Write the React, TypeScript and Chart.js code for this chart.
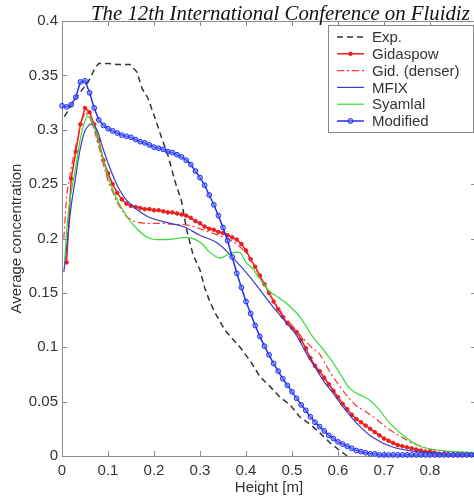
import React, { useEffect, useRef } from 'react';
import { Chart, registerables } from 'chart.js';
Chart.register(...registerables);

// Sample heights (m) shared by the dense marker series
const gridX = [
  0.0, 0.01, 0.02, 0.03, 0.04, 0.05, 0.06, 0.07, 0.08, 0.09,
  0.1, 0.11, 0.12, 0.13, 0.14, 0.15, 0.16, 0.17, 0.18, 0.19,
  0.2, 0.21, 0.22, 0.23, 0.24, 0.25, 0.26, 0.27, 0.28, 0.29,
  0.3, 0.31, 0.32, 0.33, 0.34, 0.35, 0.36, 0.37, 0.38, 0.39,
  0.4, 0.41, 0.42, 0.43, 0.44, 0.45, 0.46, 0.47, 0.48, 0.49,
  0.5, 0.51, 0.52, 0.53, 0.54, 0.55, 0.56, 0.57, 0.58, 0.59,
  0.6, 0.61, 0.62, 0.63, 0.64, 0.65, 0.66, 0.67, 0.68, 0.69,
  0.7, 0.71, 0.72, 0.73, 0.74, 0.75, 0.76, 0.77, 0.78, 0.79,
  0.8, 0.81, 0.82, 0.83, 0.84, 0.85, 0.86, 0.87, 0.88, 0.89, 0.9,
];

const modifiedY = [
  0.322, 0.321, 0.323, 0.33, 0.344, 0.345, 0.334, 0.32, 0.309, 0.304,
  0.301, 0.299, 0.297, 0.295, 0.294, 0.293, 0.291, 0.289, 0.288, 0.286,
  0.284, 0.283, 0.282, 0.28, 0.279, 0.277, 0.275, 0.272, 0.268, 0.262,
  0.256, 0.249, 0.24, 0.231, 0.221, 0.21, 0.198, 0.183, 0.168, 0.155,
  0.142, 0.131, 0.12, 0.11, 0.101, 0.093, 0.085, 0.078, 0.071, 0.065,
  0.059, 0.053, 0.047, 0.042, 0.036, 0.031, 0.027, 0.023, 0.019, 0.016,
  0.013, 0.011, 0.009, 0.007, 0.005, 0.004, 0.003, 0.002, 0.002, 0.001,
  0.001, 0.001, 0.001, 0.001, 0.001, 0.001, 0.001, 0.001, 0.001, 0.001,
  0.001, 0.001, 0.001, 0.001, 0.001, 0.001, 0.001, 0.001, 0.001, 0.001, 0.001,
];

const gidaspowY = [
  null, 0.178, 0.255, 0.28, 0.305, 0.32, 0.316, 0.305, 0.29, 0.272,
  0.26, 0.25, 0.242, 0.236, 0.232, 0.23, 0.229, 0.228, 0.227, 0.227,
  0.226, 0.226, 0.225, 0.224, 0.224, 0.223, 0.222, 0.221, 0.219, 0.216,
  0.214, 0.211, 0.209, 0.208, 0.206, 0.205, 0.203, 0.201, 0.199, 0.195,
  0.189, 0.181, 0.174, 0.166, 0.158, 0.15, 0.142, 0.135, 0.128, 0.122,
  0.118, 0.114, 0.107, 0.099, 0.09, 0.083, 0.078, 0.072, 0.066, 0.06,
  0.054, 0.048, 0.043, 0.038, 0.034, 0.031, 0.028, 0.025, 0.022, 0.019,
  0.016, 0.014, 0.012, 0.01, 0.009, 0.008, 0.007, 0.006, 0.005, 0.004,
  0.004, 0.003, 0.002, 0.002, 0.001, 0.001, 0.001, 0.001, 0.001, 0.001, 0.001,
];

const expX = [0.005, 0.03, 0.057, 0.072, 0.08, 0.1, 0.12, 0.148, 0.163, 0.174, 0.187, 0.202, 0.217, 0.23, 0.246, 0.26, 0.271, 0.285, 0.3, 0.31, 0.322, 0.335, 0.354, 0.37, 0.387, 0.41, 0.43, 0.452, 0.474, 0.496, 0.517, 0.54, 0.561, 0.583, 0.604, 0.62];
const expY = [0.312, 0.329, 0.344, 0.357, 0.361, 0.361, 0.36, 0.36, 0.353, 0.338, 0.329, 0.311, 0.292, 0.277, 0.252, 0.234, 0.208, 0.185, 0.171, 0.155, 0.141, 0.13, 0.116, 0.108, 0.1, 0.087, 0.073, 0.064, 0.054, 0.047, 0.036, 0.029, 0.021, 0.012, 0.005, 0.0];

const denserX = [0.004, 0.01, 0.02, 0.03, 0.04, 0.05, 0.06, 0.07, 0.08, 0.09, 0.1, 0.12, 0.14, 0.16, 0.18, 0.2, 0.22, 0.24, 0.26, 0.28, 0.3, 0.32, 0.34, 0.36, 0.38, 0.4, 0.42, 0.44, 0.46, 0.48, 0.5, 0.52, 0.54, 0.56, 0.58, 0.6, 0.62, 0.64, 0.66, 0.68, 0.7, 0.72, 0.74, 0.76, 0.78, 0.8, 0.82, 0.85, 0.9];
const denserY = [0.2, 0.24, 0.265, 0.285, 0.305, 0.316, 0.312, 0.3, 0.285, 0.268, 0.253, 0.233, 0.22, 0.215, 0.214, 0.214, 0.214, 0.213, 0.213, 0.212, 0.209, 0.206, 0.203, 0.2, 0.195, 0.187, 0.173, 0.158, 0.143, 0.13, 0.12, 0.11, 0.101, 0.094, 0.079, 0.066, 0.055, 0.046, 0.041, 0.035, 0.028, 0.022, 0.017, 0.012, 0.009, 0.006, 0.005, 0.003, 0.002];

const mfixX = [0.004, 0.013, 0.02, 0.028, 0.036, 0.043, 0.05, 0.058, 0.066, 0.076, 0.089, 0.104, 0.12, 0.137, 0.159, 0.187, 0.224, 0.263, 0.3, 0.337, 0.372, 0.402, 0.43, 0.459, 0.489, 0.511, 0.533, 0.554, 0.572, 0.589, 0.611, 0.641, 0.676, 0.72, 0.772, 0.84, 0.9];
const mfixY = [0.169, 0.203, 0.23, 0.252, 0.274, 0.289, 0.299, 0.304, 0.305, 0.3, 0.283, 0.265, 0.249, 0.237, 0.228, 0.22, 0.215, 0.211, 0.203, 0.196, 0.182, 0.168, 0.153, 0.137, 0.122, 0.11, 0.093, 0.079, 0.067, 0.058, 0.045, 0.03, 0.017, 0.008, 0.004, 0.001, 0.0];

const syamlalX = [0.006, 0.01, 0.017, 0.028, 0.036, 0.043, 0.054, 0.061, 0.068, 0.076, 0.089, 0.104, 0.122, 0.143, 0.165, 0.191, 0.228, 0.25, 0.271, 0.29, 0.305, 0.322, 0.343, 0.36, 0.372, 0.387, 0.4, 0.415, 0.43, 0.452, 0.47, 0.489, 0.517, 0.546, 0.566, 0.589, 0.607, 0.626, 0.648, 0.663, 0.685, 0.713, 0.75, 0.778, 0.807, 0.857, 0.9];
const syamlalY = [0.18, 0.206, 0.235, 0.261, 0.282, 0.298, 0.312, 0.311, 0.305, 0.295, 0.274, 0.252, 0.234, 0.219, 0.208, 0.2, 0.199, 0.2, 0.201, 0.199, 0.195, 0.187, 0.182, 0.185, 0.187, 0.187, 0.178, 0.172, 0.163, 0.151, 0.146, 0.14, 0.128, 0.109, 0.099, 0.086, 0.074, 0.062, 0.056, 0.053, 0.045, 0.03, 0.016, 0.009, 0.006, 0.004, 0.003];

const seriesNames = ['Exp.', 'Gidaspow', 'Gid. (denser)', 'MFIX', 'Syamlal', 'Modified'];
const xTickMax = 0.9;
const yTickMax = 0.4;

const FONT = '"Liberation Sans", Arial, sans-serif';
const TEXT = '#333333';
const AXIS = '#8c8c8c';

const pts = (xs: number[], ys: (number | null)[]) => xs.map((x, i) => ({ x, y: ys[i] }));
const fmt = (v: number) => String(Math.round(v * 100) / 100);

const framePlugin = {
  id: 'frame',
  beforeDatasetsDraw(chart: any) {
    const { ctx, chartArea, scales } = chart;
    const { left, right, top, bottom } = chartArea;
    ctx.save();
    ctx.strokeStyle = AXIS;
    ctx.lineWidth = 1;
    ctx.setLineDash([]);
    ctx.strokeRect(Math.round(left) + 0.5, Math.round(top) + 0.5, Math.round(right - left), Math.round(bottom - top));
    ctx.beginPath();
    scales.x.ticks.forEach((t: any) => {
      const px = Math.round(scales.x.getPixelForValue(t.value)) + 0.5;
      ctx.moveTo(px, bottom); ctx.lineTo(px, bottom - 5);
      ctx.moveTo(px, top); ctx.lineTo(px, top + 5);
    });
    scales.y.ticks.forEach((t: any) => {
      const py = Math.round(scales.y.getPixelForValue(t.value)) + 0.5;
      ctx.moveTo(left, py); ctx.lineTo(left + 5, py);
      ctx.moveTo(right, py); ctx.lineTo(right - 5, py);
    });
    ctx.stroke();
    ctx.restore();
  },
};

const legendPlugin = {
  id: 'boxLegend',
  afterDraw(chart: any) {
    const { ctx } = chart;
    const bx = 328, by = 25, bw = 145, bh = 107;
    ctx.save();
    ctx.fillStyle = '#ffffff';
    ctx.fillRect(bx, by, bw, bh);
    ctx.strokeStyle = '#888888';
    ctx.lineWidth = 1;
    ctx.strokeRect(bx + 0.5, by + 0.5, bw, bh);
    chart.data.datasets.forEach((ds: any, i: number) => {
      const y = by + 12 + i * 16.8;
      ctx.strokeStyle = ds.borderColor;
      ctx.lineWidth = ds.borderWidth;
      ctx.setLineDash(ds.borderDash || []);
      ctx.beginPath();
      ctx.moveTo(337, y);
      ctx.lineTo(364, y);
      ctx.stroke();
      ctx.setLineDash([]);
      if (ds.pointRadius > 0) {
        ctx.beginPath();
        ctx.arc(350.5, y, ds.pointRadius, 0, Math.PI * 2);
        ctx.fillStyle = ds.pointBackgroundColor;
        ctx.fill();
        ctx.strokeStyle = ds.pointBorderColor;
        ctx.lineWidth = 1;
        ctx.stroke();
      }
      ctx.fillStyle = TEXT;
      ctx.font = `15px ${FONT}`;
      ctx.textBaseline = 'middle';
      ctx.textAlign = 'left';
      ctx.fillText(ds.label, 372, y + 1);
    });
    ctx.restore();
  },
};

export default function App() {
  const ref = useRef<HTMLCanvasElement>(null);
  useEffect(() => {
    if (!ref.current) return;
    const chart = new Chart(ref.current, {
      type: 'line',
      data: {
        datasets: [
          {
            label: seriesNames[0], data: pts(expX, expY), borderColor: '#333333', borderWidth: 1.5,
            borderDash: [6, 4], pointRadius: 0, order: 5, clip: false,
          },
          {
            label: seriesNames[1], data: pts(gridX, gidaspowY), borderColor: '#ee1c1c', borderWidth: 1.5,
            pointRadius: 1.8, pointBackgroundColor: '#ee1c1c', pointBorderColor: '#ee1c1c', pointBorderWidth: 1,
            order: 4, clip: false, spanGaps: true,
          },
          {
            label: seriesNames[2], data: pts(denserX, denserY), borderColor: '#ff3030', borderWidth: 1.2,
            borderDash: [7, 3, 2, 3], pointRadius: 0, order: 3, clip: false,
          },
          {
            label: seriesNames[3], data: pts(mfixX, mfixY), borderColor: '#3b3bd0', borderWidth: 1.2,
            pointRadius: 0, order: 2, clip: false, tension: 0.35,
          },
          {
            label: seriesNames[4], data: pts(syamlalX, syamlalY), borderColor: '#33dd33', borderWidth: 1.2,
            pointRadius: 0, order: 1, clip: false, tension: 0.35,
          },
          {
            label: seriesNames[5], data: pts(gridX, modifiedY), borderColor: '#1f2ff0', borderWidth: 1.5,
            pointRadius: 2.4, pointBackgroundColor: 'rgba(110,130,255,0.55)', pointBorderColor: '#1f2ff0',
            pointBorderWidth: 1, order: 0, clip: false,
          },
        ],
      } as any,
      options: {
        animation: false,
        responsive: false,
        devicePixelRatio: 1,
        layout: { padding: { top: 21, right: 14, left: 0, bottom: 0 } },
        plugins: { legend: { display: false }, tooltip: { enabled: false }, title: { display: false } },
        elements: { line: { tension: 0 } },
        scales: {
          x: {
            type: 'linear', min: 0, max: xTickMax,
            afterFit: (s: any) => { s.height = 44; },
            grid: { display: false, drawTicks: false },
            border: { display: false },
            ticks: {
              stepSize: 0.1, padding: 6, color: TEXT, maxRotation: 0, autoSkip: false,
              font: { family: FONT, size: 15 },
              callback: (v: any) => (Math.abs(v - xTickMax) < 1e-9 ? '' : fmt(v)),
            },
            title: { display: true, text: 'Height [m]', color: TEXT, font: { family: FONT, size: 15 }, padding: { top: 0, bottom: 3 } },
          },
          y: {
            type: 'linear', min: 0, max: yTickMax,
            afterFit: (s: any) => { s.width = 62; },
            grid: { display: false, drawTicks: false },
            border: { display: false },
            ticks: {
              stepSize: 0.05, padding: 4, color: TEXT, autoSkip: false,
              font: { family: FONT, size: 15 },
              callback: (v: any) => fmt(v),
            },
            title: { display: true, text: 'Average concentration', color: TEXT, font: { family: FONT, size: 15 }, padding: { top: 8, bottom: 0 } },
          },
        },
      } as any,
      plugins: [framePlugin, legendPlugin],
    });
    return () => chart.destroy();
  }, []);

  return (
    <div style={{ position: 'absolute', left: 0, top: 0, width: 474, height: 500, overflow: 'hidden', background: '#ffffff' }}>
      <canvas ref={ref} width={490} height={500} style={{ display: 'block' }} />
      <div
        style={{
          position: 'absolute', left: 91, top: 3, fontFamily: '"Liberation Serif", "Times New Roman", serif',
          fontStyle: 'italic', fontSize: 20.8, lineHeight: '20px', whiteSpace: 'nowrap', color: '#111111',
        }}
      >
        The 12th International Conference on Fluidiz
      </div>
    </div>
  );
}
